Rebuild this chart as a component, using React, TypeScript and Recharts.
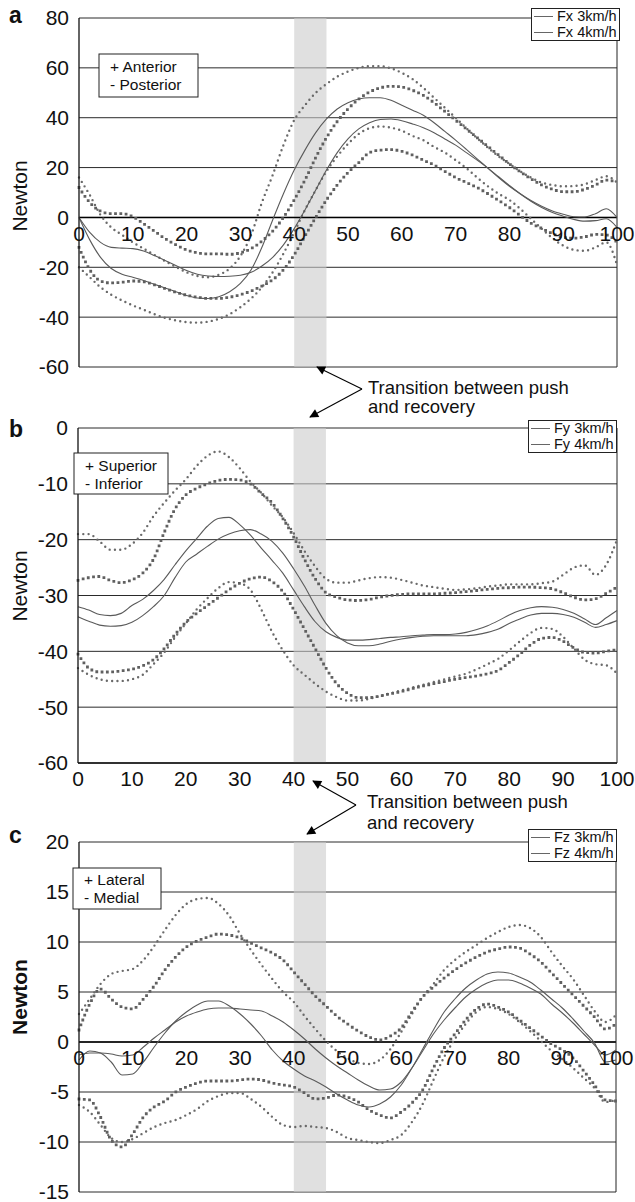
import React from "react";
import {
  CartesianGrid,
  Legend,
  Line,
  LineChart,
  ReferenceArea,
  ReferenceLine,
  XAxis,
  YAxis,
} from "recharts";

const FONT = '"Liberation Sans", Arial, Helvetica, sans-serif';

// % of the push cycle, one sample every 2 %
const pct = [
  0, 2, 4, 6, 8, 10, 12, 14, 16, 18, 20, 22, 24, 26, 28, 30, 32, 34, 36, 38, 40,
  42, 44, 46, 48, 50, 52, 54, 56, 58, 60, 62, 64, 66, 68, 70, 72, 74, 76, 78, 80,
  82, 84, 86, 88, 90, 92, 94, 96, 98, 100,
];
const xTicks = [0, 10, 20, 30, 40, 50, 60, 70, 80, 90, 100];
const transition = [40, 46];

// panel a : Fx (anterior / posterior)
const fxTicks = [-60, -40, -20, 0, 20, 40, 60, 80];
const fx3Mean = [0, -6, -10, -12, -12.3, -12.5, -13.5, -15.3, -17.3, -19.3, -21.3, -22.8, -23.5, -23.7, -23.6, -23.2, -22, -19.5, -16, -11, -4.5, 3, 11, 19, 26, 31.5, 35.5, 38, 39.3, 39.5, 38.8, 37.5, 36, 34, 31.5, 29, 26, 23, 19.8, 16.3, 12.8, 9.5, 6.5, 4, 2, 0.5, -0.8, -1.5, -1.3, -0.5, -4];
const fx4Mean = [0, -9, -16, -20.5, -22.8, -24, -25.3, -26.8, -28.3, -29.8, -31.3, -32.3, -32.5, -31.8, -29.8, -26.5, -21, -12, -1, 9.5, 19, 27, 34, 39.5, 43.5, 46, 47.5, 48, 48, 47, 45, 43, 41, 38, 34.5, 31, 27.3, 23.5, 19.8, 16, 12.5, 9.5, 6.8, 4.5, 2.6, 1.3, 0.3, 0.2, 1.5, 3.5, 0];
const fx3Up = [12, 6, 2.5, 1.5, 1.5, 0.3, -2.5, -5.5, -8.5, -11, -13, -14.2, -14.6, -14.6, -14.8, -14.2, -12.5, -9.5, -5.5, 0, 7, 15, 24, 32, 38.5, 43.5, 47.5, 50.3, 52, 52.6, 52.3, 51, 49, 46, 42.5, 39, 35.5, 32, 28.5, 25, 21.5, 18.3, 15.5, 13, 11.3, 10.3, 10.3, 11.3, 13, 15, 14];
const fx3Lo = [-12, -21, -25.5, -26.3, -26, -25.5, -25.8, -27, -28.5, -30, -31.2, -32, -32.5, -32.5, -32, -31, -29.5, -27.5, -25, -21, -15, -7.5, 0, 7, 13, 18, 22, 26, 27, 27.2, 26.5, 25, 23, 21, 18.5, 16, 14, 12, 9.5, 6.8, 4, 0.8, -2.3, -4.4, -6.5, -8, -8.3, -7.8, -6.8, -7, -10];
const fx4Up = [16, 9, 1, -4, -7, -10, -12.5, -15, -17.5, -19.8, -22, -23.5, -24, -23, -20.5, -15.5, -7, 6, 17, 29, 39, 45, 50, 53.5, 56.5, 58.5, 60, 60.7, 60.7, 59.8, 58, 55.5, 52, 48, 44, 40, 35.8, 31.8, 28, 24.5, 21.5, 18.5, 16, 14, 13, 12.5, 12.6, 13.3, 15, 16.5, 14];
const fx4Lo = [-20, -24, -28, -31, -33.3, -35.3, -37, -38.8, -40.3, -41.3, -42, -42.2, -41.8, -40.7, -38.8, -36, -32.5, -28, -22, -14.5, -6, 3, 11, 18.5, 24.5, 29.5, 33.5, 35.8, 36.5, 36, 34.8, 32.7, 31, 28.3, 26, 23, 19.8, 16, 12.5, 9.5, 7, 3.5, -0.5, -4.5, -8.3, -11.3, -13, -13.4, -12, -10, -19];

// panel b : Fy (superior / inferior)
const fyTicks = [-60, -50, -40, -30, -20, -10, 0];
const fy3Mean = [-32, -32.6, -33.4, -33.6, -33.2, -31.8, -30.7, -29.1, -27.1, -24.5, -22, -19.8, -17.6, -16.2, -16, -17.3, -19.2, -21.5, -23.7, -26, -29, -32, -34.7, -36.5, -37.5, -38, -38, -37.9, -37.7, -37.5, -37.4, -37.2, -37.1, -37, -37, -36.9, -36.6, -36.1, -35.4, -34.5, -33.5, -32.7, -32.2, -32, -32.1, -32.5, -33.2, -34.2, -35.2, -34, -32.7];
const fy4Mean = [-33.8, -34.6, -35.3, -35.5, -35.4, -34.8, -33.6, -32, -30, -26.8, -24, -22.6, -21.2, -19.9, -19, -18.4, -18.2, -19, -20.3, -22.4, -25.2, -28.3, -31.8, -35, -37.2, -38.5, -39, -39, -38.7, -38.2, -37.8, -37.5, -37.3, -37.2, -37.2, -37.2, -37.2, -37, -36.6, -36, -35, -34.2, -33.5, -33.2, -33.2, -33.4, -33.9, -34.8, -35.7, -35.2, -34.5];
const fy3Up = [-19, -19, -20.3, -21.8, -21.8, -20.8, -18.8, -15.8, -13.4, -11.2, -9.2, -6.8, -5, -4.2, -5.2, -7.2, -9.6, -11.6, -13.9, -16, -18.8, -22, -24.8, -27, -27.7, -27.7, -27.3, -26.9, -26.7, -26.8, -27.2, -27.7, -28.2, -28.5, -28.8, -29, -28.9, -28.7, -28.4, -28.2, -28, -28, -28, -27.8, -27.5, -26.3, -25, -24.6, -26.3, -24.5, -20];
const fy3Lo = [-43, -44.2, -45, -45.3, -45.3, -45, -44.2, -42.3, -40.2, -37.5, -35, -32.5, -30.5, -28.7, -27.6, -27.8, -29, -32.5, -36.5, -39.8, -42.5, -44.2, -45.8, -47.2, -48.2, -48.8, -48.8, -48.5, -48, -47.5, -47, -46.5, -46, -45.5, -45, -44.5, -44, -43.2, -42.3, -41.3, -39.8, -38.2, -36.7, -35.8, -36, -37.4, -39.5, -41.5, -42.3, -42.5, -44];
const fy4Up = [-27.3, -26.8, -26.6, -27.3, -27.7, -27.2, -26, -23.5, -18.7, -14.5, -12, -10.8, -10, -9.4, -9.2, -9.3, -10, -11.7, -13.4, -16.2, -19.5, -23.5, -27, -29.5, -30.3, -30.8, -30.9, -30.7, -30.3, -30, -29.8, -29.7, -29.7, -29.7, -29.6, -29.5, -29.3, -29.1, -28.9, -28.7, -28.6, -28.5, -28.5, -28.6, -28.8, -29.5, -30.3, -30.8, -30.6, -29.6, -28.5];
const fy4Lo = [-40.5, -43, -43.7, -43.7, -43.5, -43.2, -42.6, -41.5, -39.5, -37, -34.8, -33.2, -31.8, -30.4, -29, -27.8, -27, -26.7, -27.5, -29.3, -32.5, -36, -39.5, -43, -45.8, -47.5, -48.3, -48.3, -48, -47.6, -47.2, -46.7, -46.2, -45.8, -45.4, -45, -44.7, -44.4, -44, -43.4, -42, -40.5, -38.8, -37.7, -37.5, -38.2, -39.4, -40.2, -40.3, -40, -39.7];

// panel c : Fz (lateral / medial)
const fzTicks = [-15, -10, -5, 0, 5, 10, 15, 20];
const fz3Mean = [-1.8, -0.9, -1.1, -2, -3.3, -3.2, -2, -0.5, 0.9, 2.1, 3, 3.7, 4.1, 4.1, 3.6, 2.8, 1.8, 0.6, -0.8, -1.9, -2.7, -3.4, -3.9, -4.5, -5.2, -5.8, -6.3, -6.5, -6.2, -5.5, -4.3, -2.6, -0.7, 1.2, 3, 4.3, 5.4, 6.2, 6.8, 7, 6.9, 6.5, 6, 5.2, 4.3, 3.4, 2.3, 1.1, -0.1, -2, -1.8];
const fz4Mean = [-1.3, -1.1, -1.1, -1.2, -1.4, -1.3, -0.5, 0.4, 1.2, 2, 2.6, 3, 3.3, 3.4, 3.4, 3.3, 3.2, 3.1, 2.6, 2, 1.2, 0.3, -0.7, -1.6, -2.4, -3.1, -3.8, -4.4, -4.8, -4.7, -4, -2.6, -0.9, 0.8, 2.2, 3.4, 4.5, 5.3, 5.9, 6.2, 6.2, 5.9, 5.4, 4.8, 3.8, 2.9, 1.9, 0.8, -0.3, -1.3, -0.8];
const fz3Up = [2.8, 4.3, 5.8, 6.8, 7.1, 7.3, 8.2, 9.6, 11.2, 12.7, 13.8, 14.3, 14.4, 13.8, 12.6, 10.8, 9.2, 7.7, 6.3, 5, 4, 2.6, 1.3, 0.1, -0.9, -1.6, -2.1, -2.2, -1.8, -0.7, 1, 2.8, 4.5, 5.8, 7.2, 8.2, 9, 9.7, 10.4, 11, 11.5, 11.7, 11.4, 10.5, 9, 7.6, 6.3, 4.7, 3.1, 2, 2.7];
const fz3Lo = [-6.3, -7, -8.3, -9.6, -10, -9.7, -9.1, -8.5, -8.1, -7.8, -7.3, -6.7, -5.9, -5.4, -5.1, -5.1, -5.7, -6.5, -7.5, -8.3, -8.5, -8.4, -8.5, -8.6, -9, -9.6, -9.8, -10, -10.1, -9.8, -9.3, -8, -6.2, -3.8, -1.5, 0.3, 1.8, 3, 3.5, 3.3, 2.8, 2, 1.1, 0.1, -0.9, -1.7, -2.6, -3.6, -4.6, -6, -5.8];
const fz4Up = [1.2, 3.8, 5.3, 4.3, 3.5, 3.3, 4.3, 5.6, 7.2, 8.5, 9.5, 10.1, 10.5, 10.8, 10.7, 10.4, 9.9, 9.4, 8.9, 8.2, 7, 5.8, 4.6, 3.6, 2.6, 1.8, 1.1, 0.5, 0.2, 0.6, 1.4, 3, 4.5, 5.5, 6.4, 7.2, 7.9, 8.5, 9, 9.3, 9.5, 9.4, 8.8, 8, 6.9, 5.8, 4.7, 3.6, 2.5, 1.3, 1.8];
const fz4Lo = [-5.7, -5.8, -7.5, -9.8, -10.5, -9.2, -7.5, -6.5, -5.9, -5, -4.5, -4.1, -3.9, -3.9, -3.9, -3.8, -3.7, -3.8, -4.1, -4.3, -4.5, -5.1, -5.7, -5.6, -5.3, -5.5, -6, -6.8, -7.3, -7.6, -7, -6.1, -4.8, -2.6, -0.6, 0.8, 2.2, 3.3, 3.8, 3.5, 3, 2.2, 1.4, 0.6, -0.2, -0.8, -1.6, -2.9, -4.3, -5.8, -5.9];

// rows: two means, round-dot SD pair, square-dot SD pair
function rowsOf(m3: number[], m4: number[], upR: number[], loR: number[], upS: number[], loS: number[]) {
  return pct.map((p, i) => ({ pct: p, m3: m3[i], m4: m4[i], upR: upR[i], loR: loR[i], upS: upS[i], loS: loS[i] }));
}

const rowsA = rowsOf(fx3Mean, fx4Mean, fx4Up, fx4Lo, fx3Up, fx3Lo);
const rowsB = rowsOf(fy3Mean, fy4Mean, fy3Up, fy3Lo, fy4Up, fy4Lo);
const rowsC = rowsOf(fz3Mean, fz4Mean, fz3Up, fz3Lo, fz4Up, fz4Lo);

const legendBox = (props: any) => (
  <div
    style={{
      border: "1px solid #222",
      background: "#fff",
      fontFamily: FONT,
      fontSize: 14.5,
      lineHeight: "15.5px",
      padding: "0 2px 0 2px",
      color: "#111",
      whiteSpace: "nowrap",
    }}
  >
    {(props.payload || [])
      .filter((e: any) => e.type !== "none" && String(e.value).includes("km/h"))
      .map((e: any) => (
        <div key={e.value} style={{ display: "flex", alignItems: "center" }}>
          <span style={{ display: "inline-block", width: 19, height: 0, borderTop: "1px solid #666", marginRight: 4 }} />
          <span>{e.value}</span>
        </div>
      ))}
  </div>
);

type PanelProps = {
  top: number;
  height: number;
  margin: { top: number; right: number; bottom: number; left: number };
  xAxisHeight: number;
  domain: [number, number];
  yTicks: number[];
  rows: any[];
  names: [string, string];
  legendPos: { left: number; top: number };
  ticksAtZero: boolean;
};

function Panel(p: PanelProps) {
  const plotH = p.height - p.margin.top - p.margin.bottom - p.xAxisHeight;
  const lift = p.ticksAtZero ? (plotH * (0 - p.domain[0])) / (p.domain[1] - p.domain[0]) : 0;
  const xTick = (t: any) => (
    <text x={t.x} y={t.y - lift} dy="0.72em" textAnchor="middle" fontSize={21} fontFamily={FONT} fill="#111">
      {t.payload.value}
    </text>
  );
  const round = { stroke: "#6a6a6a", strokeWidth: 2.4, strokeDasharray: "0 5.3", strokeLinecap: "round" as const };
  const square = { stroke: "#606060", strokeWidth: 2.8, strokeDasharray: "0 5.3", strokeLinecap: "square" as const };

  return (
    <div style={{ position: "absolute", left: 0, top: p.top }}>
      <LineChart width={635} height={p.height} data={p.rows} margin={p.margin}>
        <CartesianGrid vertical={false} stroke="#2a2a2a" />
        <ReferenceArea x1={transition[0]} x2={transition[1]} fill="#cccccc" fillOpacity={0.6} stroke="none" />
        <XAxis
          dataKey="pct"
          type="number"
          domain={[0, 100]}
          ticks={xTicks}
          interval={0}
          height={p.xAxisHeight}
          axisLine={p.ticksAtZero ? false : { stroke: "#111", strokeWidth: 1.3 }}
          tickLine={false}
          tick={xTick}
        />
        <YAxis
          type="number"
          domain={p.domain}
          ticks={p.yTicks}
          interval={0}
          width={60}
          allowDataOverflow
          axisLine={{ stroke: "#111", strokeWidth: 1.3 }}
          tickLine={false}
          tickMargin={4}
          tick={{ fontSize: 21, fill: "#111", fontFamily: FONT }}
        />
        {p.ticksAtZero && <ReferenceLine y={0} stroke="#000" strokeWidth={1.4} />}
        <ReferenceLine x={100} stroke="#222" />
        <Line dataKey="upR" type="monotone" dot={false} legendType="none" isAnimationActive={false} {...round} />
        <Line dataKey="loR" type="monotone" dot={false} legendType="none" isAnimationActive={false} {...round} />
        <Line dataKey="upS" type="monotone" dot={false} legendType="none" isAnimationActive={false} {...square} />
        <Line dataKey="loS" type="monotone" dot={false} legendType="none" isAnimationActive={false} {...square} />
        <Line dataKey="m3" name={p.names[0]} type="monotone" dot={false} stroke="#5a5a5a" strokeWidth={1.1} isAnimationActive={false} />
        <Line dataKey="m4" name={p.names[1]} type="monotone" dot={false} stroke="#5a5a5a" strokeWidth={1.1} isAnimationActive={false} />
        <Legend
          layout="vertical"
          align="center"
          verticalAlign="middle"
          wrapperStyle={{ left: p.legendPos.left, top: p.legendPos.top, width: "auto" }}
          content={legendBox}
        />
      </LineChart>
    </div>
  );
}

function NoteBox({ x, y, w, h, lines, baselines }: { x: number; y: number; w: number; h: number; lines: string[]; baselines: number[] }) {
  return (
    <g>
      <rect x={x} y={y} width={w} height={h} fill="#fff" stroke="#222" strokeWidth={1} />
      {lines.map((s, i) => (
        <text key={s} x={x + 11} y={baselines[i]} fontSize={15.5} fontFamily={FONT} fill="#111">
          {s}
        </text>
      ))}
    </g>
  );
}

function Overlay() {
  const t = { fontFamily: FONT, fill: "#111" };
  return (
    <svg width={635} height={1202} style={{ position: "absolute", left: 0, top: 0, pointerEvents: "none" }}>
      <defs>
        <marker id="ah" viewBox="0 0 10 10" refX="9" refY="5" markerWidth="12" markerHeight="9" markerUnits="userSpaceOnUse" orient="auto">
          <path d="M0,0 L10,5 L0,10 z" fill="#000" />
        </marker>
      </defs>

      <text x={9} y={23} fontSize={23} fontWeight="bold" {...t}>a</text>
      <text x={9} y={437} fontSize={23} fontWeight="bold" {...t}>b</text>
      <text x={9} y={843} fontSize={23} fontWeight="bold" {...t}>c</text>

      <text transform="translate(26.5,196) rotate(-90)" textAnchor="middle" fontSize={21} {...t}>Newton</text>
      <text transform="translate(26.5,586) rotate(-90)" textAnchor="middle" fontSize={21} {...t}>Newton</text>
      <text transform="translate(26.5,997) rotate(-90)" textAnchor="middle" fontSize={21} fontWeight="bold" {...t}>Newton</text>

      <NoteBox x={99} y={54} w={99} h={43} lines={["+ Anterior", "- Posterior"]} baselines={[72, 90]} />
      <NoteBox x={74} y={453} w={94} h={41} lines={["+ Superior", "- Inferior"]} baselines={[471, 489]} />
      <NoteBox x={73} y={868} w={88} h={41} lines={["+ Lateral", "- Medial"]} baselines={[885, 903]} />

      <g stroke="#000" strokeWidth={1.1} fill="none">
        <line x1={362} y1={389} x2={317} y2={367} markerEnd="url(#ah)" />
        <line x1={362} y1={389} x2={310} y2={417} markerEnd="url(#ah)" />
        <line x1={356} y1={805} x2={313} y2={781} markerEnd="url(#ah)" />
        <line x1={356} y1={805} x2={307} y2={834} markerEnd="url(#ah)" />
      </g>
      <text x={368} y={394} fontSize={18.5} {...t}>Transition between push</text>
      <text x={368} y={413} fontSize={18.5} {...t}>and recovery</text>
      <text x={367} y={808} fontSize={18.5} {...t}>Transition between push</text>
      <text x={367} y={829} fontSize={18.5} {...t}>and recovery</text>
    </svg>
  );
}

export default function App() {
  return (
    <div style={{ position: "absolute", left: 0, top: 0, width: 635, height: 1202, background: "#fff", overflow: "hidden" }}>
      <Panel
        top={0}
        height={400}
        margin={{ top: 18, right: 18, bottom: 3, left: 19 }}
        xAxisHeight={30}
        domain={[-60, 80]}
        yTicks={fxTicks}
        rows={rowsA}
        names={["Fx 3km/h", "Fx 4km/h"]}
        legendPos={{ left: 531, top: 8 }}
        ticksAtZero
      />
      <Panel
        top={400}
        height={400}
        margin={{ top: 28, right: 18, bottom: 7, left: 18 }}
        xAxisHeight={30}
        domain={[-60, 0]}
        yTicks={fyTicks}
        rows={rowsB}
        names={["Fy 3km/h", "Fy 4km/h"]}
        legendPos={{ left: 528, top: 20 }}
        ticksAtZero={false}
      />
      <Panel
        top={800}
        height={402}
        margin={{ top: 42, right: 19, bottom: 2, left: 19 }}
        xAxisHeight={8}
        domain={[-15, 20]}
        yTicks={fzTicks}
        rows={rowsC}
        names={["Fz 3km/h", "Fz 4km/h"]}
        legendPos={{ left: 528, top: 29 }}
        ticksAtZero
      />
      <Overlay />
    </div>
  );
}
